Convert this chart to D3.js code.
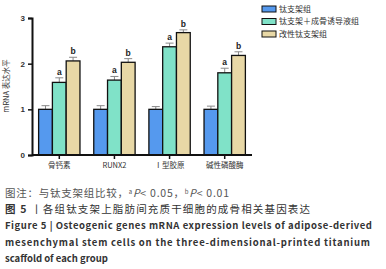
<!DOCTYPE html>
<html>
<head>
<meta charset="utf-8">
<script src="https://cdn.jsdelivr.net/npm/d3@7"></script>
<style>
  body { margin: 0; background: #fff; }
  svg text { font-family: "Noto Sans CJK SC", "Noto Sans", sans-serif; }
</style>
</head>
<body>
<div id="chart"></div>
<script>
// data
var genes = ["骨钙素", "RUNX2", "Ⅰ型胶原", "碱性磷酸酶"];
var groups = ["钛支架组", "钛支架＋成骨诱导液组", "改性钛支架组"];
var groupColors = ["#5599ee", "#80e2c8", "#e8d8a6"];
var meanTi = [1.0, 1.0, 1.0, 1.0];
var meanTiInduce = [1.59, 1.64, 2.37, 1.80];
var meanModified = [2.06, 2.03, 2.68, 2.18];
var errTi = [0.08, 0.08, 0.06, 0.07];
var errTiInduce = [0.10, 0.08, 0.08, 0.10];
var errModified = [0.08, 0.08, 0.06, 0.08];
var sigTiInduce = ["a", "a", "a", "a"];
var sigModified = ["b", "b", "b", "b"];
var yTicks = [0, 1, 2, 3];

var means = [meanTi, meanTiInduce, meanModified];
var errs = [errTi, errTiInduce, errModified];
var sigs = [null, sigTiInduce, sigModified];

var W = 386, H = 269;
var svg = d3.select("#chart").append("svg")
    .attr("width", W).attr("height", H);

// plot area
var x0 = d3.scaleBand().domain(genes).range([32, 252]).paddingInner(0.25).paddingOuter(0.12);
var x1 = d3.scaleBand().domain(d3.range(groups.length)).range([0, x0.bandwidth()]);
var y = d3.scaleLinear().domain([0, 3]).range([155, 18]);

// bars
var data = [];
genes.forEach(function(g, i) {
    groups.forEach(function(s, j) {
        data.push({gene: g, j: j, v: means[j][i], e: errs[j][i], sig: sigs[j] ? sigs[j][i] : null});
    });
});

var bars = svg.append("g").selectAll("g").data(data).enter().append("g");

// error bars (upper only)
bars.append("line")
    .attr("x1", function(d) { return x0(d.gene) + x1(d.j) + x1.bandwidth() / 2; })
    .attr("x2", function(d) { return x0(d.gene) + x1(d.j) + x1.bandwidth() / 2; })
    .attr("y1", function(d) { return y(d.v); })
    .attr("y2", function(d) { return y(d.v + d.e); })
    .attr("stroke", "#888").attr("stroke-width", 1);
bars.append("line")
    .attr("x1", function(d) { return x0(d.gene) + x1(d.j) + x1.bandwidth() / 2 - 4; })
    .attr("x2", function(d) { return x0(d.gene) + x1(d.j) + x1.bandwidth() / 2 + 4; })
    .attr("y1", function(d) { return y(d.v + d.e); })
    .attr("y2", function(d) { return y(d.v + d.e); })
    .attr("stroke", "#888").attr("stroke-width", 1);

bars.append("rect")
    .attr("x", function(d) { return x0(d.gene) + x1(d.j); })
    .attr("y", function(d) { return y(d.v); })
    .attr("width", x1.bandwidth())
    .attr("height", function(d) { return y(0) - y(d.v); })
    .attr("fill", function(d) { return groupColors[d.j]; })
    .attr("stroke", "#111").attr("stroke-width", 1.3);

// significance letters
bars.filter(function(d) { return d.sig; })
    .append("text")
    .attr("x", function(d) { return x0(d.gene) + x1(d.j) + x1.bandwidth() / 2; })
    .attr("y", function(d) { return y(d.v + d.e) - 3; })
    .attr("text-anchor", "middle")
    .style("font-family", "Liberation Sans, Arial, sans-serif")
    .style("font-weight", "bold").style("font-size", "8.5px").attr("fill", "#222")
    .text(function(d) { return d.sig; });

// axes
var yAxis = svg.append("g").attr("transform", "translate(32,0)")
    .call(d3.axisLeft(y).tickValues(yTicks).tickFormat(d3.format("d")).tickSize(4).tickPadding(3));
var xAxis = svg.append("g").attr("transform", "translate(0,155)")
    .call(d3.axisBottom(x0).tickSize(4).tickPadding(4));
xAxis.select(".domain").attr("d", "M32,0H252");
[yAxis, xAxis].forEach(function(a) {
    a.select(".domain").attr("stroke", "#111").attr("stroke-width", 2);
    a.selectAll(".tick line").attr("stroke", "#111").attr("stroke-width", 1.5);
    a.selectAll("text").attr("fill", "#333");
});
yAxis.selectAll("text").style("font-family", "Liberation Sans, Arial, sans-serif")
    .style("font-size", "8px").style("font-weight", "bold");
xAxis.selectAll("text").style("font-size", "7.5px");

svg.append("text")
    .attr("transform", "translate(9,86) rotate(-90)")
    .attr("text-anchor", "middle")
    .style("font-size", "7.5px").attr("fill", "#333")
    .text("mRNA 表达水平");

// legend
var legend = svg.append("g").selectAll("g").data(groups).enter().append("g")
    .attr("transform", function(d, i) { return "translate(262," + (6 + i * 12.5) + ")"; });
legend.append("rect")
    .attr("width", 14).attr("height", 6)
    .attr("fill", function(d, i) { return groupColors[i]; })
    .attr("stroke", "#111").attr("stroke-width", 1);
legend.append("text")
    .attr("x", 17).attr("y", 3).attr("dy", "0.35em")
    .style("font-size", "8px").attr("fill", "#333")
    .text(function(d) { return d; });

// caption
var cap = svg.append("g");
cap.append("text").attr("x", 5).attr("y", 197)
    .style("font-size", "10.5px").attr("fill", "#555")
    .attr("textLength", 224).attr("lengthAdjust", "spacing")
    .html('图注：与钛支架组比较，<tspan font-size="6px" dy="-3.5">a</tspan><tspan dy="3.5" font-style="italic">P</tspan>&lt; 0.05，<tspan font-size="6px" dy="-3.5">b</tspan><tspan dy="3.5" font-style="italic">P</tspan>&lt; 0.01');
cap.append("text").attr("x", 5).attr("y", 213)
    .style("font-size", "10.5px").attr("fill", "#333")
    .attr("textLength", 305).attr("lengthAdjust", "spacing")
    .html('<tspan font-weight="bold">图 5</tspan> 丨各组钛支架上脂肪间充质干细胞的成骨相关基因表达');
var figLines = [
    "Figure 5  |  Osteogenic genes mRNA expression levels of adipose-derived",
    "mesenchymal stem cells on the three-dimensional-printed titanium",
    "scaffold of each group"
];
var figLens = [367, 365, null];
cap.selectAll(".fig").data(figLines).enter().append("text")
    .attr("x", 5).attr("y", function(d, i) { return 229 + i * 16.5; })
    .style("font-size", "9.5px").style("font-weight", "bold").attr("fill", "#333")
    .each(function(d, i) {
        if (figLens[i]) d3.select(this).attr("textLength", figLens[i]).attr("lengthAdjust", "spacing");
    })
    .text(function(d) { return d; });
</script>
</body>
</html>
